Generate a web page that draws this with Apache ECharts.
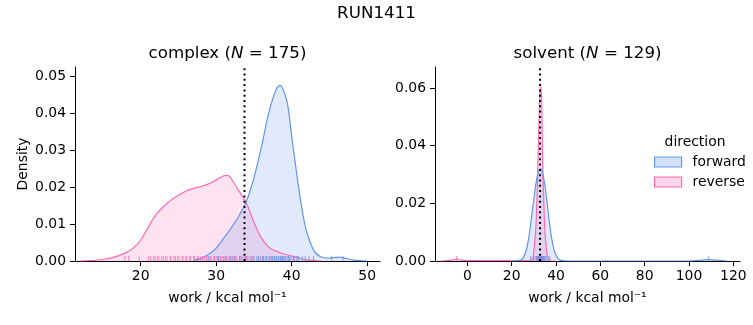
<!DOCTYPE html>
<html><head><meta charset="utf-8">
<script src="https://cdn.jsdelivr.net/npm/echarts@6/dist/echarts.min.js"></script>
<style>html,body{margin:0;padding:0;background:#fff}#c{width:753px;height:325px}</style>
</head><body><div id="c"></div>
<script>
// ---------- data ----------
const suptitle = 'RUN1411';
const panelNames = ['complex', 'solvent'];
const panelN = [175, 129];
const legendNames = ['forward', 'reverse'];

// complex panel KDE curves
const complexFwdX = [27, 28, 29, 30, 31, 32, 33, 34, 35, 36, 37, 38, 38.5, 39, 39.5, 40, 40.5, 41, 41.5, 42, 43, 44, 45, 46, 46.5, 47, 48, 49, 50];
const complexFwdY = [0.0002, 0.0007, 0.0018, 0.0035, 0.0062, 0.0090, 0.0122, 0.0162, 0.0225, 0.0310, 0.0405, 0.0468, 0.0476, 0.0458, 0.0420, 0.0338, 0.0262, 0.0188, 0.0125, 0.0078, 0.0026, 0.0010, 0.0008, 0.0010, 0.0010, 0.0008, 0.0003, 0.0001, 0];
const complexRevX = [12, 13, 14, 15, 16, 17, 18, 19, 20, 21, 22, 23, 24, 25, 26, 27, 28, 29, 30, 31, 31.5, 32, 33, 34, 35, 36, 37, 38, 39, 40, 41, 42, 43, 44];
const complexRevY = [0, 0.0001, 0.0002, 0.0004, 0.0008, 0.0014, 0.0022, 0.0035, 0.0057, 0.0092, 0.0125, 0.0147, 0.0165, 0.0178, 0.0190, 0.0197, 0.0202, 0.0209, 0.0220, 0.0231, 0.0232, 0.0223, 0.0190, 0.0157, 0.0105, 0.0062, 0.0037, 0.0026, 0.0019, 0.0014, 0.0008, 0.0003, 0.0001, 0];

// solvent panel KDE curves
const solventFwdX = [20, 24, 25, 26, 27, 28, 29, 30, 31, 32, 33, 33.5, 34, 35, 36, 37, 38, 39, 40, 41, 42, 43, 45, 60, 80, 100, 104, 107, 108.7, 111, 114, 117];
const solventFwdY = [0, 0.0003, 0.0008, 0.0025, 0.0052, 0.0095, 0.0155, 0.0215, 0.0272, 0.0308, 0.0320, 0.0319, 0.0305, 0.0262, 0.0200, 0.0135, 0.0080, 0.0042, 0.0019, 0.0008, 0.0003, 0.0001, 0, 0, 0, 0, 0.0002, 0.0004, 0.0005, 0.0004, 0.0002, 0];
const solventRevX = [-12, -9, -7, -6, -5, -4, -3, -1, 2, 10, 20, 26, 28, 29, 29.5, 30, 30.5, 31, 31.5, 32, 32.5, 33, 33.5, 34, 34.5, 35, 35.5, 36, 36.5, 37, 38, 40];
const solventRevY = [0, 0.0001, 0.0003, 0.0005, 0.0007, 0.0006, 0.0004, 0.0002, 0.0001, 0.0001, 0.0001, 0.0001, 0.0001, 0.0003, 0.0008, 0.0035, 0.0075, 0.0130, 0.0240, 0.0390, 0.0530, 0.0605, 0.0560, 0.0330, 0.0200, 0.0100, 0.0055, 0.0020, 0.0008, 0.0002, 0, 0];

// rug samples
const complexFwdRug = [29.0, 30.3, 31.2, 31.9, 32.4, 33.1, 33.4, 33.9, 34.2, 34.7, 35.0, 35.4, 35.6, 35.9, 36.2, 36.3, 36.6, 36.7, 37.0, 37.1, 37.4, 37.5, 37.7, 37.8, 38.0, 38.2, 38.3, 38.5, 38.6, 38.8, 38.9, 39.1, 39.2, 39.4, 39.6, 39.7, 39.9, 40.2, 40.3, 40.7, 40.9, 41.4, 41.8, 42.3, 42.9, 45.3, 46.8];
const complexRevRug = [17.9, 18.4, 19.8, 21.0, 21.3, 21.7, 21.9, 22.2, 22.4, 22.8, 23.0, 23.3, 23.5, 23.9, 24.0, 24.4, 24.6, 24.9, 25.1, 25.5, 25.6, 26.0, 26.1, 26.5, 26.6, 27.0, 27.1, 27.5, 27.6, 27.9, 28.2, 28.4, 28.7, 28.9, 29.2, 29.3, 29.7, 29.8, 30.1, 30.2, 30.5, 30.6, 30.9, 31.0, 31.3, 31.4, 31.7, 31.8, 32.1, 32.2, 32.5, 32.7, 33.1, 33.3, 33.7, 34.0, 34.5, 34.9, 35.6, 36.2, 37.3, 38.6, 40.4];
const solventFwdRug = [28.5, 29.8, 30.6, 31.3, 31.8, 32.2, 32.6, 33.0, 33.3, 33.6, 34.0, 34.4, 34.9, 35.5, 36.3, 37.2, 108.7];
const solventRevRug = [-4.8, 31.2, 31.6, 31.9, 32.1, 32.3, 32.5, 32.6, 32.8, 32.9, 33.0, 33.1, 33.3, 33.5, 33.7, 34.0, 34.4, 35.0];

// dotted reference lines
const refLineX = [33.75, 32.8];

// axes
const complexXRange = [11.3, 51.7];
const solventXRange = [-14.6, 123];
const complexYMax = 0.0526;
const solventYMax = 0.0673;
const complexXTicks = [20, 30, 40, 50];
const solventXTicks = [0, 20, 40, 60, 80, 100, 120];
const complexYTicks = [0, 0.01, 0.02, 0.03, 0.04, 0.05];
const solventYTicks = [0, 0.02, 0.04, 0.06];
const xLabel = 'work / kcal mol⁻¹';
const yLabel = 'Density';
const legendTitle = 'direction';

// ---------- styling ----------
const FONT = 'DejaVu Sans';
const BLUE = '#6495ED', PINK = '#FF69B4';
const BLUE_FILL = 'rgba(100,149,237,0.28)', PINK_FILL = 'rgba(255,105,180,0.28)';
const zip = (xs, ys) => xs.map((x, i) => [x, ys[i]]);
const rug = xs => xs.map(x => [x, 0]);

const grids = [
  {left: 75, top: 67, width: 305, height: 194},
  {left: 435, top: 67, width: 305, height: 194}
];

function xAxisCfg(i, range, ticks) {
  return {
    gridIndex: i, type: 'value', min: range[0], max: range[1],
    axisLine: {show: true, onZero: false, lineStyle: {color: '#000', width: 1}},
    axisTick: {show: true, length: 5, lineStyle: {color: '#000', width: 1}, customValues: ticks},
    axisLabel: {customValues: ticks, color: '#000', fontFamily: FONT, fontSize: 13.9, margin: 8},
    splitLine: {show: false},
    name: xLabel, nameLocation: 'middle', nameGap: 30,
    nameTextStyle: {color: '#000', fontFamily: FONT, fontSize: 13.9}
  };
}
function yAxisCfg(i, max, ticks, name) {
  const c = {
    gridIndex: i, type: 'value', min: 0, max: max,
    axisLine: {show: true, onZero: false, lineStyle: {color: '#000', width: 1}},
    axisTick: {show: true, length: 5, lineStyle: {color: '#000', width: 1}, customValues: ticks},
    axisLabel: {customValues: ticks, color: '#000', fontFamily: FONT, fontSize: 13.9, margin: 9,
      formatter: v => Number(v).toFixed(2)},
    splitLine: {show: false}
  };
  if (name) {
    c.name = name; c.nameLocation = 'middle'; c.nameGap = 45;
    c.nameTextStyle = {color: '#000', fontFamily: FONT, fontSize: 13.9};
  }
  return c;
}

function kde(name, i, data, line, fill) {
  return {
    name: name, type: 'line', xAxisIndex: i, yAxisIndex: i, data: data,
    smooth: 0.3, showSymbol: false, symbol: 'none', silent: true,
    lineStyle: {color: line, width: 1.2}, itemStyle: {color: line},
    areaStyle: {color: fill, origin: 'start'}, z: 2
  };
}
function rugSeries(name, i, xs, color) {
  return {
    name: name, type: 'scatter', xAxisIndex: i, yAxisIndex: i, data: rug(xs),
    symbol: 'rect', symbolSize: [1, 5], symbolOffset: [0, -2.5], silent: true,
    itemStyle: {color: color, opacity: 0.8}, z: 3
  };
}
function refLine(i, x, ymax) {
  return {
    type: 'line', xAxisIndex: i, yAxisIndex: i, data: [[x, 0], [x, ymax]],
    showSymbol: false, symbol: 'none', silent: true,
    lineStyle: {color: '#000', width: 2, type: [2, 3.3], cap: 'butt'}, z: 5
  };
}

const titleRich = {
  a: {fontFamily: FONT, fontSize: 16.7, color: '#000'},
  i: {fontFamily: FONT, fontSize: 16.7, fontStyle: 'italic', color: '#000'}
};

const option = {
  animation: false,
  backgroundColor: '#fff',
  grid: grids,
  xAxis: [xAxisCfg(0, complexXRange, complexXTicks), xAxisCfg(1, solventXRange, solventXTicks)],
  yAxis: [yAxisCfg(0, complexYMax, complexYTicks, yLabel), yAxisCfg(1, solventYMax, solventYTicks, null)],
  legend: {
    left: 649, top: 150, orient: 'vertical', itemWidth: 27, itemHeight: 10, itemGap: 6,
    icon: 'rect', selectedMode: false,
    textStyle: {color: '#000', fontFamily: FONT, fontSize: 13.9, padding: [0, 0, 0, 6]},
    data: [
      {name: legendNames[0], icon: 'rect', itemStyle: {color: BLUE_FILL, borderColor: BLUE, borderWidth: 1.2}},
      {name: legendNames[1], icon: 'rect', itemStyle: {color: PINK_FILL, borderColor: PINK, borderWidth: 1.2}}
    ]
  },
  graphic: [
    {type: 'text', left: 'center', top: 5, style: {text: suptitle, fontFamily: FONT, fontSize: 16.7, fill: '#000'}},
    {type: 'text', x: 227.5, y: 54, style: {text: '{a|' + panelNames[0] + ' (}{i|N}{a| = ' + panelN[0] + ')}', rich: titleRich, align: 'center', verticalAlign: 'middle'}},
    {type: 'text', x: 587.5, y: 54, style: {text: '{a|' + panelNames[1] + ' (}{i|N}{a| = ' + panelN[1] + ')}', rich: titleRich, align: 'center', verticalAlign: 'middle'}},
    {type: 'text', x: 695, y: 142, style: {text: legendTitle, fontFamily: FONT, fontSize: 13.9, fill: '#000', align: 'center', verticalAlign: 'middle'}}
  ],
  series: [
    kde(legendNames[1], 0, zip(complexRevX, complexRevY), PINK, PINK_FILL),
    kde(legendNames[0], 0, zip(complexFwdX, complexFwdY), BLUE, BLUE_FILL),
    kde(legendNames[1], 1, zip(solventRevX, solventRevY), PINK, PINK_FILL),
    kde(legendNames[0], 1, zip(solventFwdX, solventFwdY), BLUE, BLUE_FILL),
    rugSeries(legendNames[1], 0, complexRevRug, PINK),
    rugSeries(legendNames[0], 0, complexFwdRug, BLUE),
    rugSeries(legendNames[1], 1, solventRevRug, PINK),
    rugSeries(legendNames[0], 1, solventFwdRug, BLUE),
    refLine(0, refLineX[0], complexYMax),
    refLine(1, refLineX[1], solventYMax)
  ]
};
const chart = echarts.init(document.getElementById('c'), null, {renderer: 'canvas'});
chart.setOption(option);
</script>
</body></html>
